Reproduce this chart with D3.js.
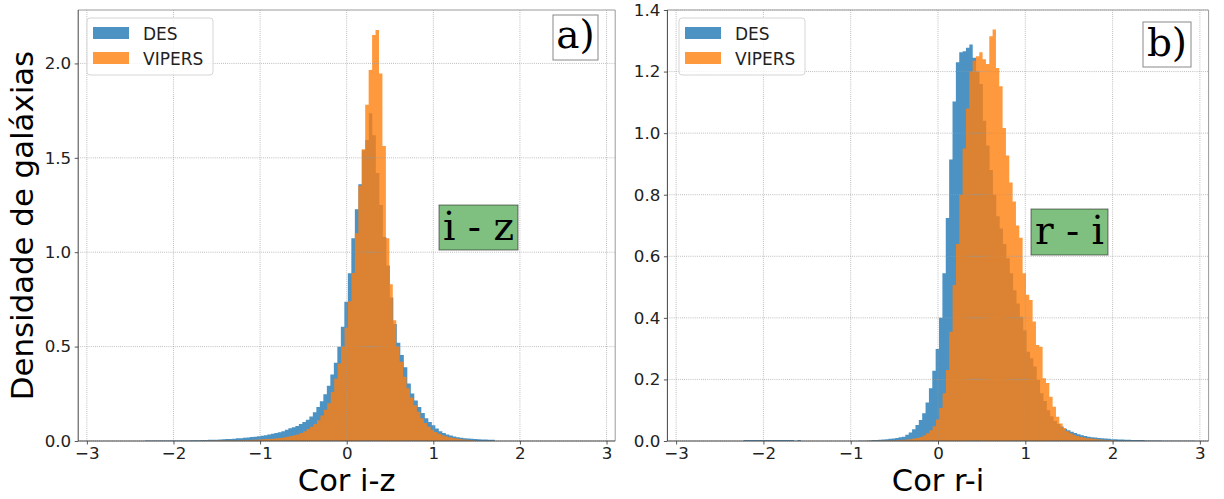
<!DOCTYPE html>
<html><head><meta charset="utf-8">
<script src="https://cdn.jsdelivr.net/npm/d3@7"></script>
<style>body{margin:0;background:#fff} svg{display:block}</style>
</head><body><svg id="c" width="1224" height="499"></svg>
<script>
// ---------------- data ----------------
const seriesNames = ["DES", "VIPERS"];
const xTicks = [-3, -2, -1, 0, 1, 2, 3];
const yTicksA = [0.0, 0.5, 1.0, 1.5, 2.0];
const yTicksB = [0.0, 0.2, 0.4, 0.6, 0.8, 1.0, 1.2, 1.4];
const xLabels = ["Cor i-z", "Cor r-i"];
const yLabel = "Densidade de galáxias";
const panelTags = ["a)", "b)"];
const colorTags = ["i - z", "r - i"];

// histogram bin ranges [min, max] (equal-width bins over the range)
const desIZRange = [-2.33, 1.71];
const vipersIZRange = [-1.657, 1.4872];
const desRIRange = [-2.227, 2.9454];
const vipersRIRange = [-0.826, 2.039];

// densities per bin
const desIZ = [
 0.002,0.002,0.002,0.002,0.002,0.002,0.003,0.002,0.003,0.003,
 0.003,0.003,0.003,0.004,0.004,0.004,0.005,0.005,0.006,0.006,
 0.007,0.008,0.009,0.010,0.011,0.012,0.014,0.015,0.017,0.019,
 0.021,0.023,0.025,0.028,0.031,0.034,0.038,0.042,0.047,0.052,
 0.060,0.068,0.073,0.079,0.090,0.100,0.113,0.130,0.152,0.180,
 0.210,0.247,0.292,0.352,0.415,0.499,0.605,0.738,0.888,1.074,
 1.227,1.360,1.540,1.594,1.736,1.620,1.420,1.250,1.080,0.930,
 0.760,0.620,0.520,0.455,0.390,0.305,0.252,0.215,0.180,0.148,
 0.120,0.100,0.083,0.066,0.052,0.042,0.035,0.029,0.024,0.020,
 0.017,0.014,0.013,0.012,0.011,0.009,0.008,0.008,0.007,0.006];
const vipersIZ = [
 0.001,0.001,0.001,0.002,0.002,0.002,0.002,0.003,0.003,0.003,
 0.004,0.004,0.005,0.005,0.006,0.007,0.008,0.009,0.010,0.011,
 0.012,0.014,0.016,0.019,0.022,0.026,0.030,0.035,0.042,0.052,
 0.063,0.076,0.090,0.110,0.135,0.165,0.200,0.260,0.330,0.410,
 0.500,0.600,0.740,0.890,1.100,1.352,1.545,1.781,1.965,2.150,
 2.177,1.947,1.562,1.074,0.830,0.640,0.500,0.420,0.340,0.280,
 0.230,0.190,0.155,0.120,0.095,0.075,0.060,0.048,0.038,0.031,
 0.025,0.020,0.016,0.013,0.010,0.008,0.006,0.005,0.004];
const desRI = [
 0.003,0.003,0.003,0.003,0.003,0.003,0.003,0.003,0.003,0.003,
 0.003,0.003,0.003,0.003,0.003,0.000,0.003,0.000,0.000,0.000,
 0.000,0.000,0.000,0.000,0.000,0.000,0.000,0.000,0.000,0.000,
 0.000,0.000,0.000,0.000,0.001,0.001,0.001,0.002,0.003,0.003,
 0.004,0.005,0.006,0.007,0.008,0.010,0.012,0.014,0.020,0.028,
 0.038,0.052,0.068,0.090,0.125,0.171,0.228,0.299,0.400,0.545,
 0.724,0.914,1.103,1.230,1.263,1.266,1.277,1.288,1.245,1.200,
 1.160,1.040,0.960,0.880,0.800,0.730,0.690,0.640,0.594,0.545,
 0.490,0.447,0.404,0.360,0.290,0.269,0.242,0.198,0.155,0.130,
 0.100,0.080,0.065,0.055,0.047,0.040,0.035,0.030,0.026,0.022,
 0.019,0.016,0.014,0.012,0.011,0.010,0.009,0.008,0.007,0.006,
 0.006,0.005,0.005,0.004,0.004,0.003,0.003,0.003,0.003,0.002,
 0.002,0.002,0.002,0.002,0.001,0.001,0.001,0.001,0.001,0.001,
 0.001,0.001,0.001,0.001];
const vipersRI = [
 0.001,0.001,0.001,0.001,0.001,0.002,0.002,0.002,0.002,0.003,
 0.003,0.004,0.005,0.006,0.008,0.010,0.013,0.018,0.025,0.035,
 0.048,0.070,0.107,0.155,0.231,0.355,0.507,0.640,0.800,0.950,
 1.080,1.200,1.235,1.250,1.263,1.240,1.225,1.315,1.337,1.212,
 1.152,1.017,0.927,0.840,0.778,0.700,0.660,0.545,0.475,0.458,
 0.388,0.312,0.306,0.204,0.188,0.144,0.111,0.079,0.057,0.042,
 0.032,0.025,0.020,0.016,0.013,0.011,0.009,0.008,0.007,0.006,
 0.005,0.004,0.003,0.003,0.002];

// ---------------- drawing ----------------
const svg = d3.select("#c");
const colors = ["rgba(31,119,180,0.8)", "rgba(255,127,14,0.8)"];
const sans = "'DejaVu Sans', sans-serif";
const serif = "'DejaVu Serif', serif";

const panels = [
  {px: [78.2, 615.2], yMax: 2.283, yTicks: yTicksA, series: [[desIZRange, desIZ], [vipersIZRange, vipersIZ]],
   xLabel: xLabels[0], tag: panelTags[0], tagBox: [553, 15, 45, 45], tagBase: 48,
   cTag: colorTags[0], cBox: [439, 205, 79, 45], cBase: 240, legend: [87, 18], yLabel: true},
  {px: [667.4, 1208.6], yMax: 1.4, yTicks: yTicksB, series: [[desRIRange, desRI], [vipersRIRange, vipersRI]],
   xLabel: xLabels[1], tag: panelTags[1], tagBox: [1143, 22, 48, 45], tagBase: 56,
   cTag: colorTags[1], cBox: [1031, 209, 77, 46], cBase: 244, legend: [679, 18], yLabel: false}
];
const plotTop = 10, plotBottom = 441;

panels.forEach((p, pi) => {
  const x = d3.scaleLinear([-3.1, 3.1], p.px);
  const y = d3.scaleLinear([0, p.yMax], [plotBottom, plotTop]);
  const g = svg.append("g");
  const clipId = "clip" + pi;
  svg.append("clipPath").attr("id", clipId).append("rect")
    .attr("x", p.px[0]).attr("y", plotTop).attr("width", p.px[1] - p.px[0]).attr("height", plotBottom - plotTop);

  // histograms (step filled)
  p.series.forEach(([rng, vals], si) => {
    const n = vals.length, w = (rng[1] - rng[0]) / n;
    const pts = vals.map((v, i) => ({e: rng[0] + i * w, v}));
    pts.push({e: rng[1], v: vals[n - 1]});
    const area = d3.area().x(d => x(d.e)).y0(y(0)).y1(d => y(d.v)).curve(d3.curveStepAfter);
    g.append("path").attr("d", area(pts)).attr("fill", colors[si])
      .attr("clip-path", `url(#${clipId})`);
  });

  // grid
  const grid = g.append("g").attr("stroke", "#9a9a9a").attr("stroke-width", 0.8).attr("stroke-dasharray", "0.8,1.3");
  xTicks.forEach(t => grid.append("line").attr("x1", x(t)).attr("x2", x(t)).attr("y1", plotTop).attr("y2", plotBottom));
  p.yTicks.forEach(t => grid.append("line").attr("x1", p.px[0]).attr("x2", p.px[1]).attr("y1", y(t)).attr("y2", y(t)));

  // axes
  const xa = d3.axisBottom(x).tickValues(xTicks).tickSize(3.5).tickPadding(3)
    .tickFormat(d => (d < 0 ? "\u2212" : "") + Math.abs(d));
  const ya = d3.axisLeft(y).tickValues(p.yTicks).tickSize(3.5).tickPadding(3.5).tickFormat(d3.format(".1f"));
  const gx = g.append("g").attr("transform", `translate(0,${plotBottom})`).call(xa);
  const gy = g.append("g").attr("transform", `translate(${p.px[0]},0)`).call(ya);
  [gx, gy].forEach(a => {
    a.select(".domain").remove();
    a.selectAll("line").attr("stroke", "#444").attr("stroke-width", 0.9);
    a.selectAll("text").attr("font-family", sans).attr("font-size", 16.7).attr("fill", "#222");
  });

  // spines
  g.append("line").attr("x1", p.px[0]).attr("x2", p.px[1]).attr("y1", plotTop).attr("y2", plotTop).attr("stroke", "#9a9a9a").attr("stroke-width", 1);
  g.append("line").attr("x1", p.px[1]).attr("x2", p.px[1]).attr("y1", plotTop).attr("y2", plotBottom).attr("stroke", "#9a9a9a").attr("stroke-width", 1);
  g.append("line").attr("x1", p.px[0]).attr("x2", p.px[1]).attr("y1", plotBottom).attr("y2", plotBottom).attr("stroke", "#444").attr("stroke-width", 1);
  g.append("line").attr("x1", p.px[0]).attr("x2", p.px[0]).attr("y1", plotTop).attr("y2", plotBottom).attr("stroke", "#444").attr("stroke-width", 1);

  // axis labels
  g.append("text").attr("x", (p.px[0] + p.px[1]) / 2).attr("y", 491).attr("text-anchor", "middle")
    .attr("font-family", sans).attr("font-size", 30.5).attr("fill", "#000").text(p.xLabel);
  if (p.yLabel) {
    g.append("text").attr("transform", `translate(33,${(plotTop + plotBottom) / 2}) rotate(-90)`).attr("text-anchor", "middle")
      .attr("font-family", sans).attr("font-size", 30.8).attr("fill", "#000").text(yLabel);
  }

  // legend
  const [lx, ly] = p.legend;
  const lg = g.append("g");
  lg.append("rect").attr("x", lx).attr("y", ly).attr("width", 126).attr("height", 57).attr("rx", 3)
    .attr("fill", "rgba(255,255,255,0.8)").attr("stroke", "#d5d5d5").attr("stroke-width", 1);
  seriesNames.forEach((s, si) => {
    lg.append("rect").attr("x", lx + 6).attr("y", ly + 9 + si * 25).attr("width", 36).attr("height", 12).attr("fill", colors[si]);
    lg.append("text").attr("x", lx + 56).attr("y", ly + 21.5 + si * 25).attr("font-family", sans).attr("font-size", 17)
      .attr("fill", "#222").text(s);
  });

  // panel tag
  const tb = p.tagBox;
  g.append("rect").attr("x", tb[0]).attr("y", tb[1]).attr("width", tb[2]).attr("height", tb[3])
    .attr("fill", "#fff").attr("stroke", "#888").attr("stroke-width", 1);
  g.append("text").attr("x", tb[0] + tb[2] / 2).attr("y", p.tagBase).attr("text-anchor", "middle")
    .attr("font-family", serif).attr("font-size", 39).attr("fill", "#000").text(p.tag);

  // colour tag
  const cb = p.cBox;
  g.append("rect").attr("x", cb[0]).attr("y", cb[1]).attr("width", cb[2]).attr("height", cb[3])
    .attr("fill", "rgba(0,128,0,0.5)").attr("stroke", "rgba(0,0,0,0.5)").attr("stroke-width", 1);
  g.append("text").attr("x", cb[0] + cb[2] / 2).attr("y", p.cBase).attr("text-anchor", "middle")
    .attr("font-family", serif).attr("font-size", 39).attr("fill", "#000").text(p.cTag);
});
</script></body></html>
